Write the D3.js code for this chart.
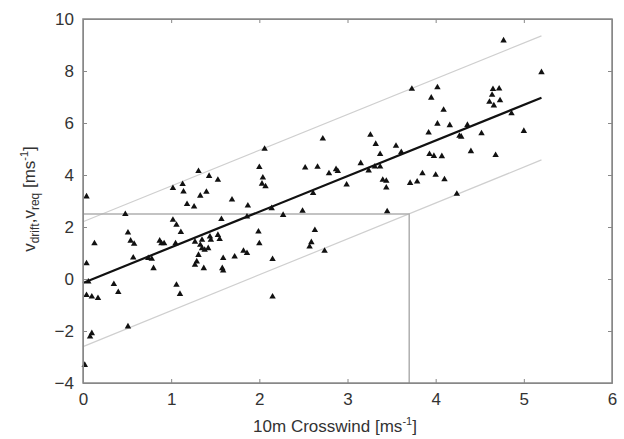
<!DOCTYPE html>
<html>
<head>
<meta charset="utf-8">
<script src="https://cdn.jsdelivr.net/npm/d3@7"></script>
<style>
	body { margin: 0; background: #fff; }
	svg { display: block; font-family: "Liberation Sans", Arial, sans-serif; }
	.axis text { fill: #333; font-size: 17px; }
	.axis path, .axis line { stroke: #888; }
</style>
</head>
<body>
<svg width="624" height="439"></svg>
<script>
'use strict';

// observations: [10m crosswind, drift velocity]
const obs = [
	[1.31, 4.15], [1.43, 3.96], [1.53, 3.81], [1.13, 3.65], [1.02, 3.49], [1.14, 3.36],
	[1.33, 3.20], [1.40, 3.35], [1.69, 3.05], [2.00, 4.30], [0.04, 3.17],
	[2.06, 5.00], [2.72, 5.40], [3.26, 5.54], [3.73, 7.31], [4.02, 7.37], [3.95, 6.97],
	[4.02, 5.97], [3.92, 5.63], [3.32, 5.19], [3.55, 5.12], [3.61, 4.88], [3.37, 4.80],
	[3.93, 4.80], [3.98, 4.73], [2.52, 4.28], [2.66, 4.31], [2.87, 4.22], [2.89, 4.15],
	[2.79, 4.06], [3.15, 4.45], [3.24, 4.17], [3.31, 4.32], [3.37, 4.32], [3.85, 4.06],
	[4.00, 4.00], [3.40, 3.81], [3.44, 3.77], [3.44, 3.51], [3.79, 3.74], [3.71, 3.69],
	[2.99, 3.63], [2.61, 3.30], [2.04, 3.90], [2.03, 3.66], [2.07, 3.56],
	[4.77, 9.17], [5.20, 7.95], [4.65, 7.30], [4.72, 7.32], [4.64, 7.08], [4.61, 6.81],
	[4.73, 6.87], [4.66, 6.67], [4.86, 6.37], [4.09, 6.50], [4.16, 5.91], [4.36, 5.92],
	[4.27, 5.50], [4.29, 5.47], [4.52, 5.60], [5.00, 5.69], [4.07, 4.72], [4.40, 4.91],
	[4.68, 4.76], [4.10, 3.83], [4.24, 3.27],
	[1.87, 2.82], [1.18, 2.88], [1.26, 2.78], [0.48, 2.49], [1.02, 2.27], [1.06, 2.08],
	[1.57, 2.30], [1.86, 2.40], [1.99, 1.82], [0.51, 1.78], [1.11, 1.80], [0.54, 1.47],
	[0.58, 1.35], [0.13, 1.37], [0.87, 1.47], [0.89, 1.37], [0.92, 1.37], [1.05, 1.37],
	[1.27, 1.43], [1.35, 1.50], [1.44, 1.63], [1.45, 1.50], [1.53, 1.69], [1.55, 1.53],
	[1.33, 1.31], [1.35, 1.18], [1.38, 1.12], [1.42, 1.18], [1.31, 0.92], [1.29, 0.67],
	[1.27, 0.54], [1.37, 0.41], [1.59, 0.80], [1.58, 0.41], [1.59, 0.32], [1.72, 0.86],
	[1.82, 1.08], [1.86, 0.99], [0.57, 0.82], [0.74, 0.80], [0.78, 0.77], [0.80, 0.41],
	[0.04, 0.60], [0.06, -0.10], [0.04, -0.62], [0.10, -0.68], [0.17, -0.74], [0.35, -0.20],
	[0.40, -0.51], [1.06, -0.23], [1.10, -0.58], [0.51, -1.83], [0.10, -2.09], [0.08, -2.22],
	[0.02, -3.31],
	[2.14, 2.72], [2.27, 2.46], [2.49, 2.62], [3.45, 2.60], [2.00, 1.37], [2.63, 1.88],
	[2.59, 1.41], [2.57, 1.24], [2.74, 1.08], [2.15, 0.76], [2.15, -0.68]
];

// linear fit and its prediction band
const fitX = [0, 5.2];
const fitY = [-0.15, 6.97];
const upperY = [2.2, 9.35];
const lowerY = [-2.6, 4.58];

// required drift velocity and the crosswind that gives it
const reqDrift = 2.5;
const reqWind = 3.7;

const xTicks = [0, 1, 2, 3, 4, 5, 6];
const yTicks = [-4, -2, 0, 2, 4, 6, 8, 10];

const svg = d3.select("svg");
const margin = {left: 83, right: 12, top: 19, bottom: 56};
const W = 624 - margin.left - margin.right;
const H = 439 - margin.top - margin.bottom;

const g = svg.append("g").attr("transform", `translate(${margin.left},${margin.top})`);

const x = d3.scaleLinear().domain([0, 6]).range([0, W]);
const y = d3.scaleLinear().domain([-4, 10]).range([H, 0]);

const line = d3.line().x(d => x(d[0])).y(d => y(d[1]));

// prediction band
[upperY, lowerY].forEach(band => {
	g.append("path")
		.attr("d", line(d3.zip(fitX, band)))
		.attr("fill", "none")
		.attr("stroke", "#cfcfcf")
		.attr("stroke-width", 1.2);
});

// threshold lines
g.append("path")
	.attr("d", line([[0, reqDrift], [reqWind, reqDrift], [reqWind, -4]]))
	.attr("fill", "none")
	.attr("stroke", "#b0b0b0")
	.attr("stroke-width", 1.5);

// points
g.append("g")
	.selectAll("path")
	.data(obs)
	.enter().append("path")
	.attr("transform", d => `translate(${x(d[0])},${y(d[1])})`)
	.attr("d", d3.symbol().type(d3.symbolTriangle).size(18))
	.attr("fill", "#111");

// fit line
g.append("path")
	.attr("d", line(d3.zip(fitX, fitY)))
	.attr("fill", "none")
	.attr("stroke", "#111")
	.attr("stroke-width", 2.2);

// axes, ticks pointing inward on all four sides
g.append("g").attr("class", "axis")
	.attr("transform", `translate(0,${H})`)
	.call(d3.axisBottom(x).tickValues(xTicks).tickFormat(d3.format("d"))
		.tickSizeInner(-4).tickSizeOuter(0).tickPadding(10));
g.append("g").attr("class", "axis")
	.call(d3.axisTop(x).tickValues(xTicks).tickSizeInner(-4).tickSizeOuter(0).tickFormat(""));
g.append("g").attr("class", "axis")
	.call(d3.axisLeft(y).tickValues(yTicks).tickFormat(d3.format("d"))
		.tickSizeInner(-4).tickSizeOuter(0).tickPadding(9));
g.append("g").attr("class", "axis")
	.attr("transform", `translate(${W},0)`)
	.call(d3.axisRight(y).tickValues(yTicks).tickSizeInner(-4).tickSizeOuter(0).tickFormat(""));

g.append("rect")
	.attr("width", W).attr("height", H)
	.attr("fill", "none")
	.attr("stroke", "#888")
	.attr("stroke-width", 1.5);

// axis titles
const xt = svg.append("text")
	.attr("x", 335).attr("y", 432)
	.attr("text-anchor", "middle")
	.attr("font-size", 17).attr("fill", "#333");
xt.append("tspan").text("10m Crosswind [ms");
xt.append("tspan").attr("font-size", 11).attr("dy", -7).text("-1");
xt.append("tspan").attr("dy", 7).text("]");

const yt = svg.append("text")
	.attr("transform", "translate(35,199) rotate(-90)")
	.attr("text-anchor", "middle")
	.attr("font-size", 17).attr("fill", "#333");
yt.append("tspan").text("v");
yt.append("tspan").attr("font-size", 12).attr("dy", 4).text("drift");
yt.append("tspan").attr("dy", -4).text(",v");
yt.append("tspan").attr("font-size", 12).attr("dy", 4).text("req");
yt.append("tspan").attr("dy", -4).text(" [ms");
yt.append("tspan").attr("font-size", 11).attr("dy", -7).text("-1");
yt.append("tspan").attr("dy", 7).text("]");
</script>
</body>
</html>
